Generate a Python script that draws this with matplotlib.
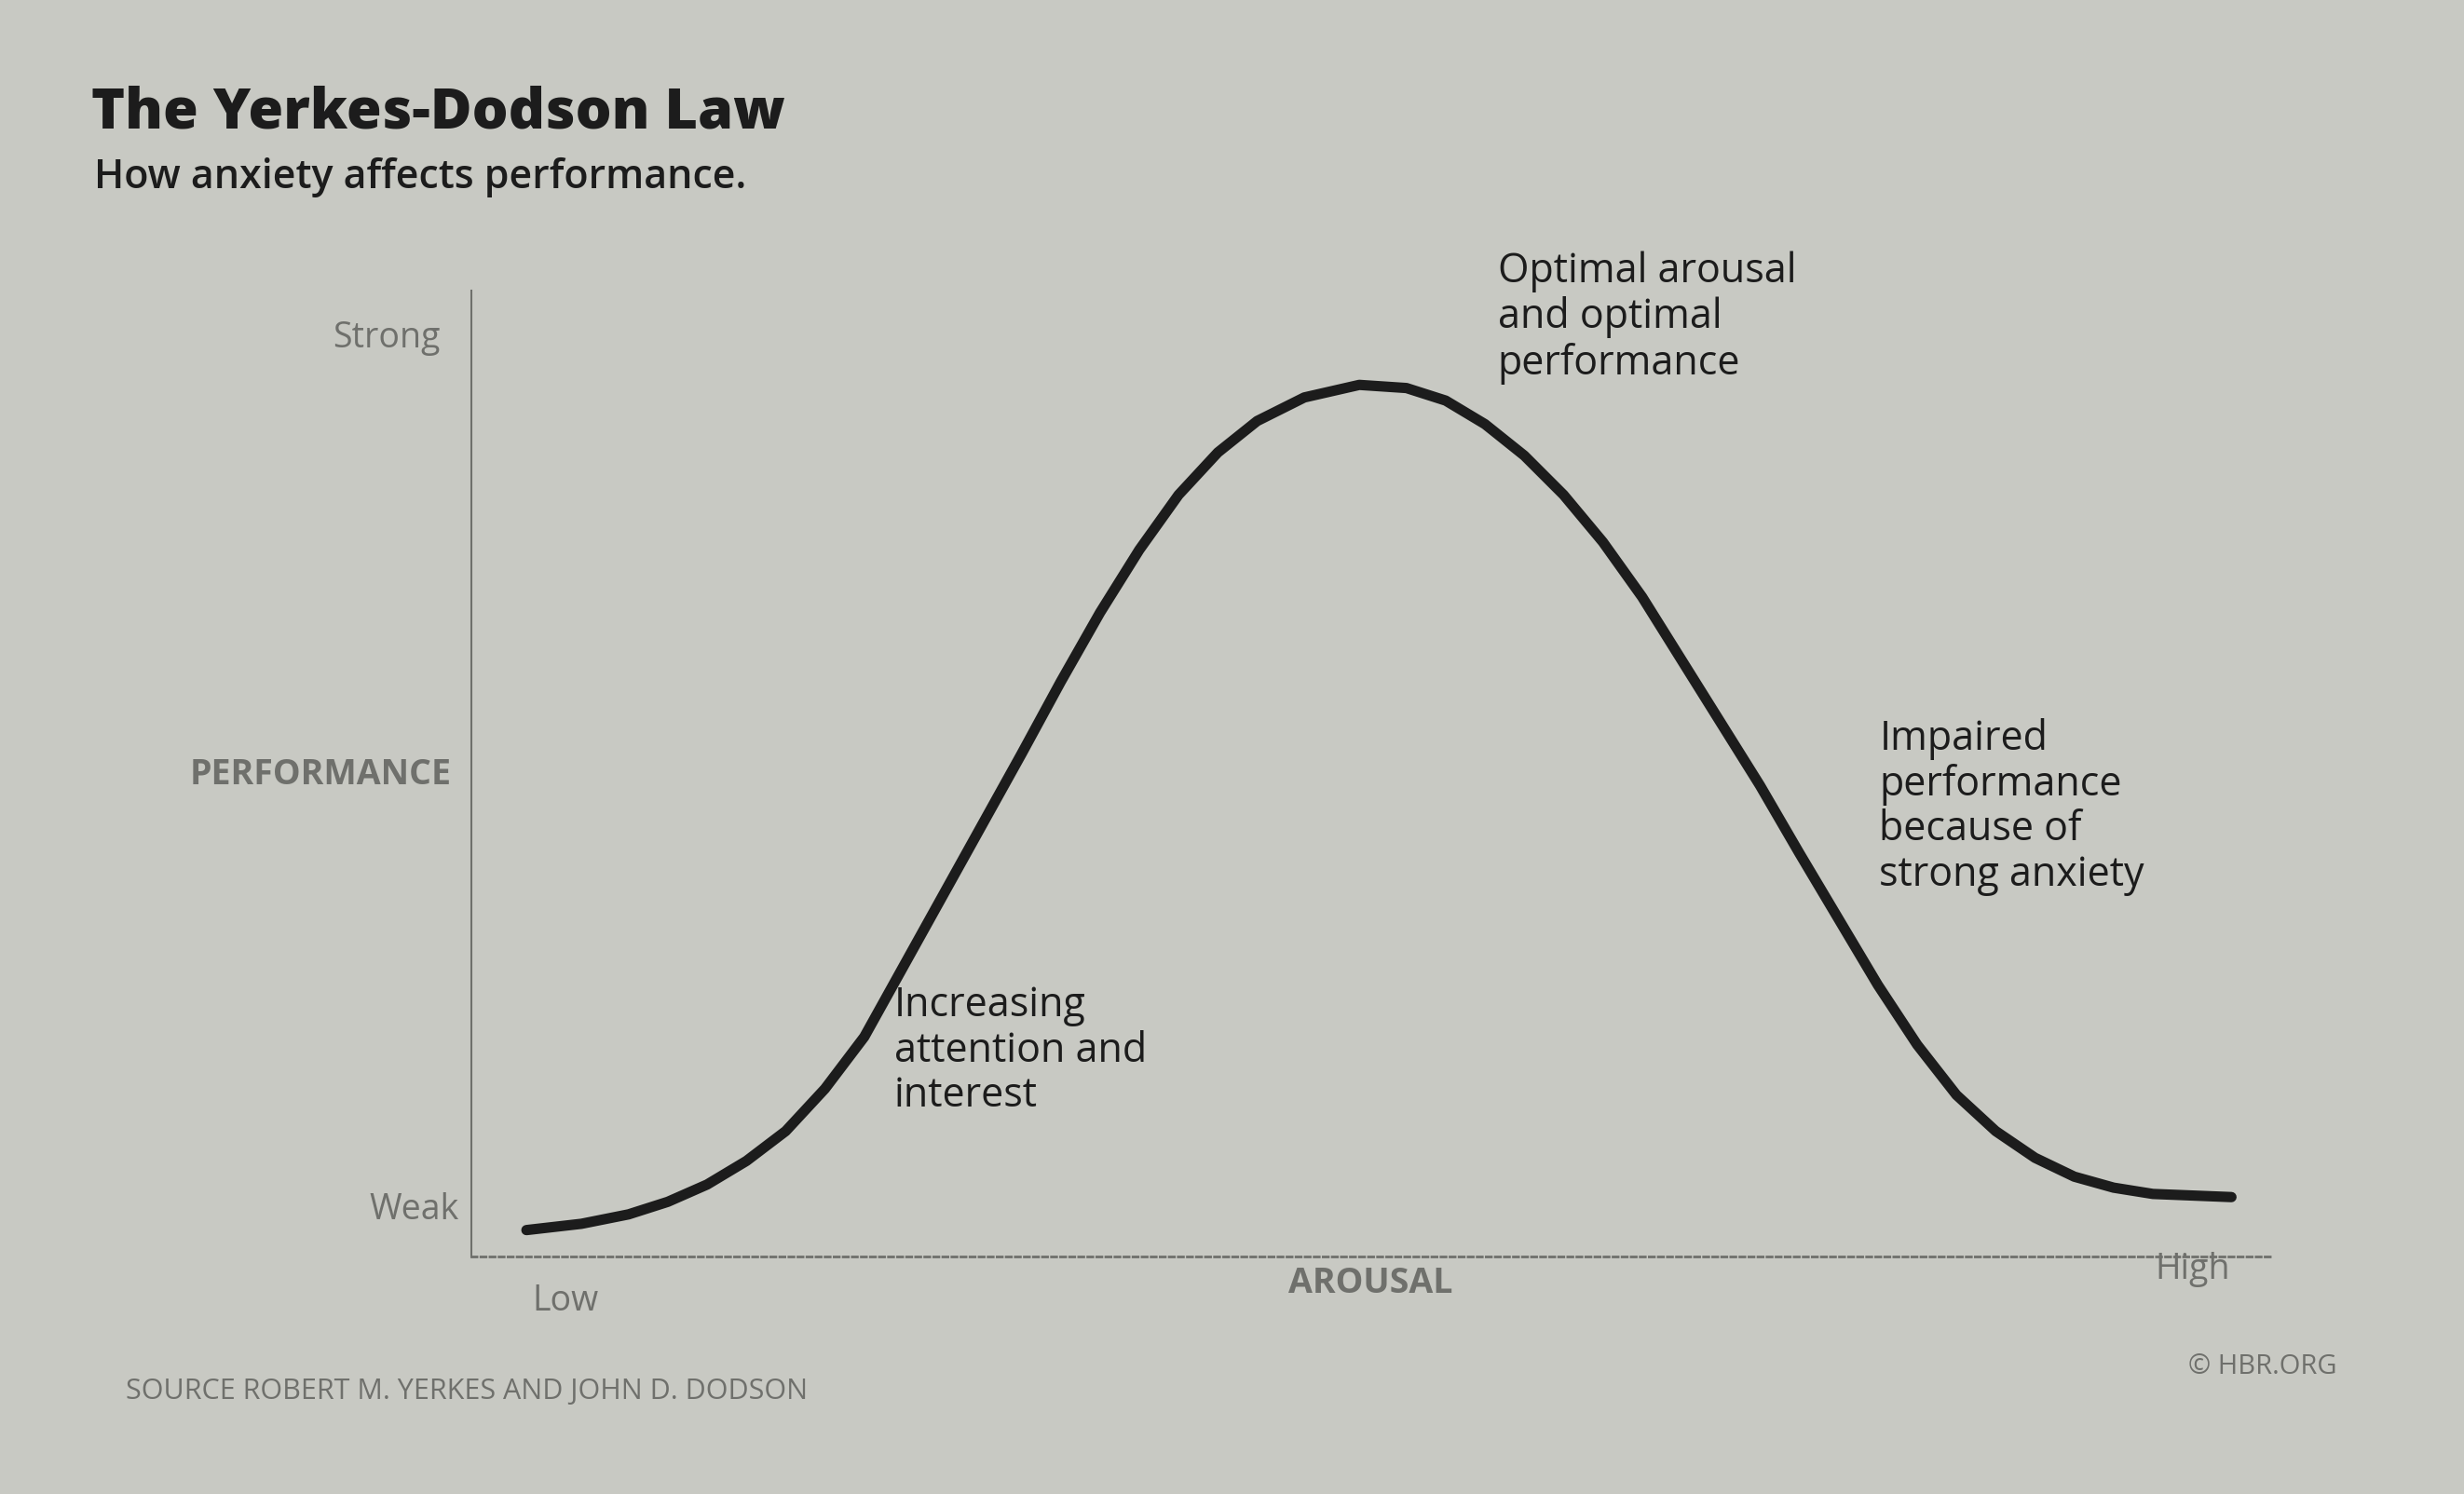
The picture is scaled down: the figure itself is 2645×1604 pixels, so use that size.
import matplotlib.pyplot as plt

# reference pixel readings of the curve (x px, y px), converted below to arousal / performance 0-100
curve_px_x = [335, 370, 400, 425, 450, 475, 500, 525, 550, 575, 600, 625, 650, 675, 700, 725,
              750, 775, 800, 830, 865, 895, 920, 945, 970, 995, 1020, 1045, 1070, 1095,
              1120, 1145, 1170, 1195, 1220, 1245, 1270, 1295, 1320, 1345, 1370, 1395, 1420]
curve_px_y = [783, 779, 773, 765, 754, 739, 720, 693, 660, 615, 570, 525, 480, 434, 390, 350,
              315, 288, 268, 253, 245, 247, 255, 270, 290, 315, 345, 380, 420, 460,
              500, 543, 585, 627, 665, 697, 720, 737, 749, 756, 760, 761, 762]

arousal = [(x - 300) / 1145 * 100 for x in curve_px_x]
performance = [(800 - y) / 615 * 100 for y in curve_px_y]

annotations = [
    ("Optimal arousal\nand optimal\nperformance", 953, 160),
    ("Impaired\nperformance\nbecause of\nstrong anxiety", 1196, 457),
    ("Increasing\nattention and\ninterest", 569, 627),
]

W, H = 1568, 951
bg = '#c8c9c3'
ink = '#1c1c1c'
grey = '#6f706c'

plt.rcParams['font.family'] = ['Open Sans', 'DejaVu Sans']
fig = plt.figure(figsize=(26.45, 16.04), dpi=100, facecolor=bg)

def fx(x):
    return x / W

def fy(y):
    return 1 - y / H

ax = fig.add_axes([fx(300), fy(800), fx(1445) - fx(300), fy(185) - fy(800)])
ax.set_facecolor(bg)
ax.set_xlim(0, 100)
ax.set_ylim(0, 100)
ax.plot(arousal, performance, color=ink, lw=8, solid_joinstyle='round', solid_capstyle='round')
for s in ['top', 'right']:
    ax.spines[s].set_visible(False)
ax.spines['left'].set_color(grey)
ax.spines['left'].set_linewidth(1.5)
ax.spines['bottom'].set_color(grey)
ax.spines['bottom'].set_linewidth(2)
ax.spines['bottom'].set_linestyle((0, (2, 1.5)))
ax.set_xticks([])
ax.set_yticks([])

fig.text(fx(58), fy(72), "The Yerkes-Dodson Law", fontsize=44, fontweight='heavy', color=ink, va='center')
fig.text(fx(60), fy(113), "How anxiety affects performance.", fontsize=31, fontweight='semibold', color=ink, va='center')

for txt, x, y in annotations:
    fig.text(fx(x), fy(y), txt, fontsize=31, fontweight='medium', color=ink, va='top', linespacing=1.12)

fig.text(fx(280), fy(215), "Strong", fontsize=27, color=grey, ha='right', va='center')
fig.text(fx(292), fy(770), "Weak", fontsize=27, color=grey, ha='right', va='center')
fig.text(fx(287), fy(493), "PERFORMANCE", fontsize=27, fontweight='bold', color=grey, ha='right', va='center')
fig.text(fx(360), fy(828), "Low", fontsize=27, color=grey, ha='center', va='center')
fig.text(fx(872), fy(817), "AROUSAL", fontsize=27, fontweight='bold', color=grey, ha='center', va='center')
fig.text(fx(1395), fy(808), "High", fontsize=27, color=grey, ha='center', va='center')
fig.text(fx(80), fy(886), "SOURCE ROBERT M. YERKES AND JOHN D. DODSON", fontsize=22, color=grey, va='center')
fig.text(fx(1487), fy(870), "© HBR.ORG", fontsize=21, color=grey, ha='right', va='center')

fig.savefig('out.png', dpi=100, facecolor=bg)
